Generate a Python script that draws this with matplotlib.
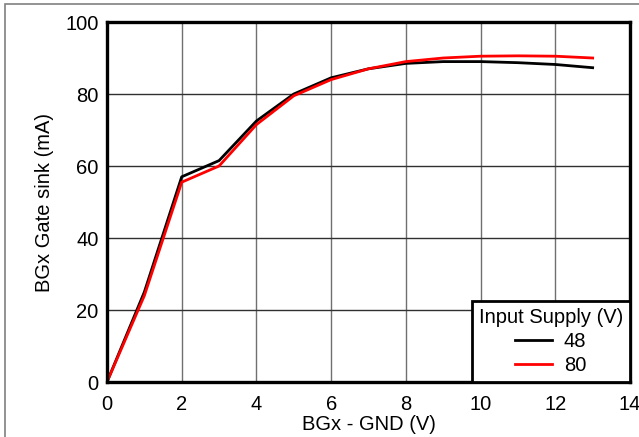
import matplotlib
matplotlib.use("Agg")
import matplotlib.pyplot as plt
from matplotlib.patches import Rectangle

plt.rcParams['font.family'] = ['Liberation Sans', 'DejaVu Sans']

# data
volts = [0, 1, 2, 3, 4, 5, 6, 7, 8, 9, 10, 11, 12, 13]
sink_48 = [0, 25, 57, 61.5, 72.5, 80, 84.5, 87, 88.5, 89, 89, 88.7, 88.2, 87.3]
sink_80 = [0, 24, 55.5, 60, 71.5, 79.5, 84, 87, 89, 90, 90.5, 90.6, 90.5, 90]

fig = plt.figure(figsize=(6.39, 4.37), dpi=100)
ax = fig.add_axes([107 / 639, 1 - 382 / 437, (630 - 107) / 639, (382 - 22) / 437])

# outer grey border (bottom and right edges fall outside the image)
fig.patches.append(Rectangle((5 / 639, -5 / 437), 640 / 639, 438 / 437,
                             transform=fig.transFigure, fill=False,
                             edgecolor='#808080', linewidth=1.2))

ax.plot(volts, sink_48, color='black', linewidth=2, label='48')
ax.plot(volts, sink_80, color='red', linewidth=2, label='80')

ax.set_xlim(0, 14)
ax.set_ylim(0, 100)
ax.set_xticks(range(0, 15, 2))
ax.set_yticks(range(0, 101, 20))
ax.grid(True, axis='x', color='#707070', linewidth=1)
ax.grid(True, axis='y', color='#303030', linewidth=1)
ax.tick_params(length=0, labelsize=14.5)
ax.tick_params(axis='x', pad=9)
ax.tick_params(axis='y', pad=6)
for s in ax.spines.values():
    s.set_linewidth(2.4)

ax.set_xlabel('BGx - GND (V)', fontsize=14.5, labelpad=1)
ax.set_ylabel('BGx Gate sink (mA)', fontsize=14.5, labelpad=8)

leg = ax.legend(title='Input Supply (V)', loc='lower right', fontsize=14.5,
                title_fontsize=14.5, fancybox=False, framealpha=1,
                edgecolor='black', borderaxespad=0, handlelength=1.8,
                labelspacing=0.25, borderpad=0.35, handletextpad=0.6)
leg.get_frame().set_linewidth(2)

fig.savefig('out.png', dpi=100)
